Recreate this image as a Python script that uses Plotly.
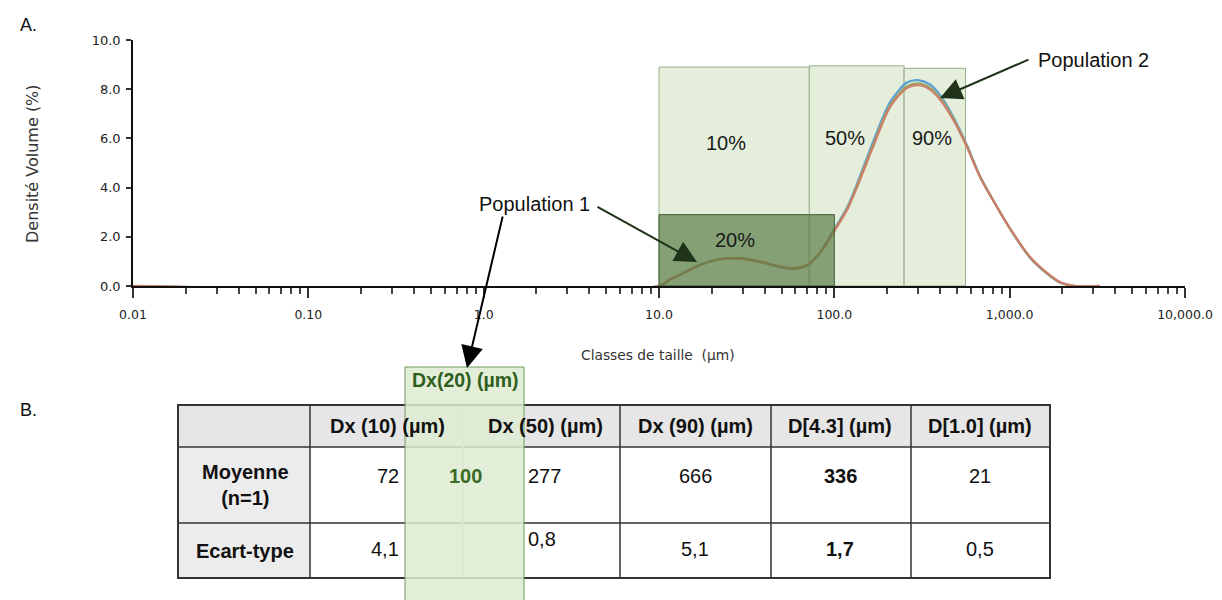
import math
import plotly.graph_objects as go

W, H = 1222, 600
OFF = 8  # page body margin


def xp(px):
    return (px - OFF) / W


def yp(py):
    return 1 - (py - OFF) / H


# ---------------- data ----------------
size_um = [0.01, 10, 11.6, 13.2, 17.1, 22.3, 29.0, 37.7, 49.0, 58.1, 69.8, 82.8, 98.2,
           118, 134.6, 166, 208, 259, 300, 350, 401, 475, 571, 678, 847, 1045, 1306,
           1633, 1936, 2360, 3270]
density_red = [0, 0, 0.27, 0.45, 0.85, 1.08, 1.12, 0.99, 0.79, 0.72, 0.85, 1.34, 2.15,
               3.09, 4.02, 5.65, 7.28, 8.05, 8.17, 8.00, 7.58, 6.78, 5.65, 4.43, 3.21, 2.15, 1.18,
               0.53, 0.16, 0, 0]
density_green = [0, 0, 0.27, 0.46, 0.86, 1.09, 1.12, 0.98, 0.78, 0.71, 0.84, 1.35, 2.18,
                 3.12, 4.08, 5.72, 7.35, 8.12, 8.24, 8.07, 7.64, 6.83, 5.68, 4.44, 3.21, 2.14, 1.17,
                 0.52, 0.15, 0, 0]
density_blue = [0, 0, 0.27, 0.46, 0.86, 1.09, 1.13, 0.98, 0.77, 0.70, 0.83, 1.36, 2.22,
                3.18, 4.15, 5.85, 7.48, 8.27, 8.37, 8.20, 7.76, 6.90, 5.72, 4.46, 3.21, 2.13, 1.15,
                0.50, 0.14, 0, 0]

# percentile boxes
box_x0 = [10, 72, 250]
box_x1 = [72, 250, 560]
box_top = [8.9, 8.95, 8.85]
box_labels = ["10%", "50%", "90%"]
box_label_x = [24, 115, 360]
box_label_y = [5.8, 6.0, 6.0]

dx20_x0, dx20_x1, dx20_top = 10, 100, 2.9
dx20_box_label, dx20_label_x, dx20_label_y = "20%", 27, 1.87

x_tickvals = [0.01, 0.1, 1, 10, 100, 1000, 10000]
x_ticktext = ["0.01", "0.10", "1.0", "10.0", "100.0", "1,000.0", "10,000.0"]
y_tickvals = [0, 2, 4, 6, 8, 10]

# table
headers = ["Dx (10) (µm)", "Dx (50) (µm)", "Dx (90) (µm)", "D[4.3] (µm)", "D[1.0] (µm)"]
row_labels = ["Moyenne<br>(n=1)", "Ecart-type"]
moyenne = ["72", "277", "666", "336", "21"]
ecart = ["4,1", "0,8", "5,1", "1,7", "0,5"]
bold_cols = [3]
dx20_header = "Dx(20) (µm)"
dx20_value = "100"

# ---------------- layout constants ----------------
FONT_AX = "DejaVu Sans, Verdana, sans-serif"
FONT_TX = "Liberation Sans, Arial, sans-serif"
LIGHT_FILL = "rgb(228,238,219)"
LIGHT_LINE = "rgb(150,175,138)"

fig = go.Figure()

for x0, x1, top in zip(box_x0, box_x1, box_top):
    fig.add_trace(go.Scatter(
        x=[x0, x1, x1, x0, x0], y=[0, 0, top, top, 0], mode="lines",
        fill="toself", fillcolor=LIGHT_FILL,
        line=dict(color=LIGHT_LINE, width=1), hoverinfo="skip", showlegend=False))

fig.add_trace(go.Scatter(x=size_um, y=density_blue, mode="lines", line=dict(color="#5b9fd0", width=2.2, shape="spline", smoothing=0.8), showlegend=False))
fig.add_trace(go.Scatter(x=size_um, y=density_green, mode="lines", line=dict(color="#93b06c", width=2.2, shape="spline", smoothing=0.8), showlegend=False))
fig.add_trace(go.Scatter(x=size_um, y=density_red, mode="lines", line=dict(color="#cf7a66", width=2.4, shape="spline", smoothing=0.8), opacity=0.9, showlegend=False))

fig.add_trace(go.Scatter(
    x=[dx20_x0, dx20_x1, dx20_x1, dx20_x0, dx20_x0], y=[0, 0, dx20_top, dx20_top, 0],
    mode="lines", fill="toself", fillcolor="rgba(82,120,62,0.66)",
    line=dict(color="rgb(70,95,55)", width=1), hoverinfo="skip", showlegend=False))

C = dict(xanchor="center", yanchor="middle")

annotations = []
for lab, lx, ly in zip(box_labels + [dx20_box_label], box_label_x + [dx20_label_x], box_label_y + [dx20_label_y]):
    annotations.append(dict(x=math.log10(lx), y=ly, xref="x", yref="y", text=lab, showarrow=False,
                            font=dict(family=FONT_TX, size=20, color="#1a1a1a"), **C))

annotations += [
    dict(x=xp(28), y=yp(25), xref="paper", yref="paper", text="A.", showarrow=False,
         font=dict(family=FONT_TX, size=18, color="#111"), **C),
    dict(x=xp(28), y=yp(410), xref="paper", yref="paper", text="B.", showarrow=False,
         font=dict(family=FONT_TX, size=18, color="#111"), **C),
    dict(x=xp(32), y=yp(164), xref="paper", yref="paper", text="Densité Volume (%)", textangle=-90,
         showarrow=False, font=dict(family=FONT_AX, size=16, color="#333"), **C),
    dict(x=xp(658), y=yp(355), xref="paper", yref="paper", text="Classes de taille  (µm)",
         showarrow=False, font=dict(family=FONT_AX, size=13.8, color="#333"), **C),
    dict(x=xp(534), y=yp(204), xref="paper", yref="paper", text="Population 1", showarrow=False,
         font=dict(family=FONT_TX, size=20, color="#111"), **C),
    dict(x=xp(1093), y=yp(60), xref="paper", yref="paper", text="Population 2", showarrow=False,
         font=dict(family=FONT_TX, size=20, color="#111"), **C),
]

arrows = [(697, 262, 596, 206, "#1f3318"), (467, 368, 503, 215, "#000000"), (940, 98, 1030, 59, "#1f3318")]
for tx, ty, sx, sy, col in arrows:
    annotations.append(dict(x=xp(tx), y=yp(ty), xref="paper", yref="paper", text="",
                            showarrow=True, ax=sx - tx, ay=sy - ty, arrowhead=2, arrowsize=2.2,
                            arrowwidth=2, arrowcolor=col))

# ---------------- table (paper coordinates) ----------------
col_edges = [178, 310, 463, 620, 771, 911, 1050]
row_edges = [405, 447, 523, 578]
header_cx = [387, 545, 695, 840, 980]
shapes = []
shapes.append(dict(type="rect", xref="paper", yref="paper", x0=xp(col_edges[0]), x1=xp(col_edges[-1]),
                   y0=yp(row_edges[0]), y1=yp(row_edges[1]), fillcolor="#e6e6e6", line=dict(width=0), layer="below"))
shapes.append(dict(type="rect", xref="paper", yref="paper", x0=xp(col_edges[0]), x1=xp(col_edges[1]),
                   y0=yp(row_edges[1]), y1=yp(row_edges[-1]), fillcolor="#ececec", line=dict(width=0), layer="below"))
for r in row_edges[1:-1]:
    shapes.append(dict(type="line", xref="paper", yref="paper", x0=xp(col_edges[0]), x1=xp(col_edges[-1]),
                       y0=yp(r), y1=yp(r), line=dict(color="#333", width=1.5)))
for i, c in enumerate(col_edges[1:-1]):
    shapes.append(dict(type="line", xref="paper", yref="paper", x0=xp(c), x1=xp(c),
                       y0=yp(row_edges[0]), y1=yp(row_edges[-1]),
                       line=dict(color="#ddd" if i == 1 else "#333", width=1.5)))
shapes.append(dict(type="rect", xref="paper", yref="paper", x0=xp(col_edges[0]), x1=xp(col_edges[-1]),
                   y0=yp(row_edges[0]), y1=yp(row_edges[-1]), line=dict(color="#333", width=2)))
shapes.append(dict(type="rect", xref="paper", yref="paper", x0=xp(405), x1=xp(524), y0=yp(367), y1=yp(612),
                   fillcolor="rgba(222,235,210,0.85)", line=dict(color="#6f9a5e", width=1), layer="above"))

hy = (row_edges[0] + row_edges[1]) / 2
r1y = (row_edges[1] + row_edges[2]) / 2
r2y = (row_edges[2] + row_edges[3]) / 2
for h, cx in zip(headers, header_cx):
    annotations.append(dict(x=xp(cx), y=yp(hy), xref="paper", yref="paper", text="<b>%s</b>" % h,
                            showarrow=False, font=dict(family=FONT_TX, size=20, color="#111"), **C))
for lab, ry in zip(row_labels, [r1y, r2y]):
    annotations.append(dict(x=xp(245), y=yp(ry), xref="paper", yref="paper", text="<b>%s</b>" % lab,
                            showarrow=False, font=dict(family=FONT_TX, size=20, color="#111"),
                            align="center", **C))
for j, (m, e) in enumerate(zip(moyenne, ecart)):
    if j == 0:
        pos = dict(x=xp(401), xanchor="right")
    elif j == 1:
        pos = dict(x=xp(526), xanchor="left")
    else:
        pos = dict(x=xp(header_cx[j]), xanchor="center")
    tm = "<b>%s</b>" % m if j in bold_cols else m
    te = "<b>%s</b>" % e if j in bold_cols else e
    annotations.append(dict(y=yp(r1y - 9), xref="paper", yref="paper", yanchor="middle", text=tm,
                            showarrow=False, font=dict(family=FONT_TX, size=20, color="#111"), **pos))
    annotations.append(dict(y=yp(r2y - (12 if j == 1 else 2)), xref="paper", yref="paper", yanchor="middle",
                            text=te, showarrow=False, font=dict(family=FONT_TX, size=20, color="#111"), **pos))
annotations.append(dict(x=xp(465), y=yp(380), xref="paper", yref="paper", text="<b>%s</b>" % dx20_header,
                        showarrow=False, font=dict(family=FONT_TX, size=19.5, color="#2f5e1e"), **C))
annotations.append(dict(x=xp(465), y=yp(r1y - 9), xref="paper", yref="paper", text="<b>%s</b>" % dx20_value,
                        showarrow=False, font=dict(family=FONT_TX, size=20, color="#3b6b26"), **C))

minor_vals = [m * 10 ** k for k in range(-2, 4) for m in range(2, 10)]

fig.update_layout(
    width=W, height=H, margin=dict(l=0, r=0, t=0, b=0, autoexpand=False),
    paper_bgcolor="white", plot_bgcolor="white",
    xaxis=dict(type="log", range=[-2, 4], domain=[xp(133), xp(1185)], showgrid=False, zeroline=False,
               automargin=False,
               showline=True, linecolor="#111", linewidth=1.5, ticks="outside", ticklen=10, tickwidth=1.5,
               tickcolor="#333", tickvals=x_tickvals, ticktext=x_ticktext, ticklabelstandoff=6,
               tickfont=dict(family=FONT_AX, size=12.5, color="#222"),
               minor=dict(tickvals=minor_vals, ticks="outside", ticklen=6, tickwidth=1.5, tickcolor="#444",
                          showgrid=False)),
    yaxis=dict(range=[0, 10], domain=[yp(286), yp(40)], showgrid=False, zeroline=False, showline=True,
               automargin=False,
               linecolor="#111", linewidth=1.5, ticks="outside", ticklen=5, tickwidth=1.5, tickcolor="#333",
               tickvals=y_tickvals, tickformat=".1f", ticklabelstandoff=3,
               tickfont=dict(family=FONT_AX, size=13, color="#222")),
    shapes=shapes, annotations=annotations,
)

fig.write_html("out.html")
